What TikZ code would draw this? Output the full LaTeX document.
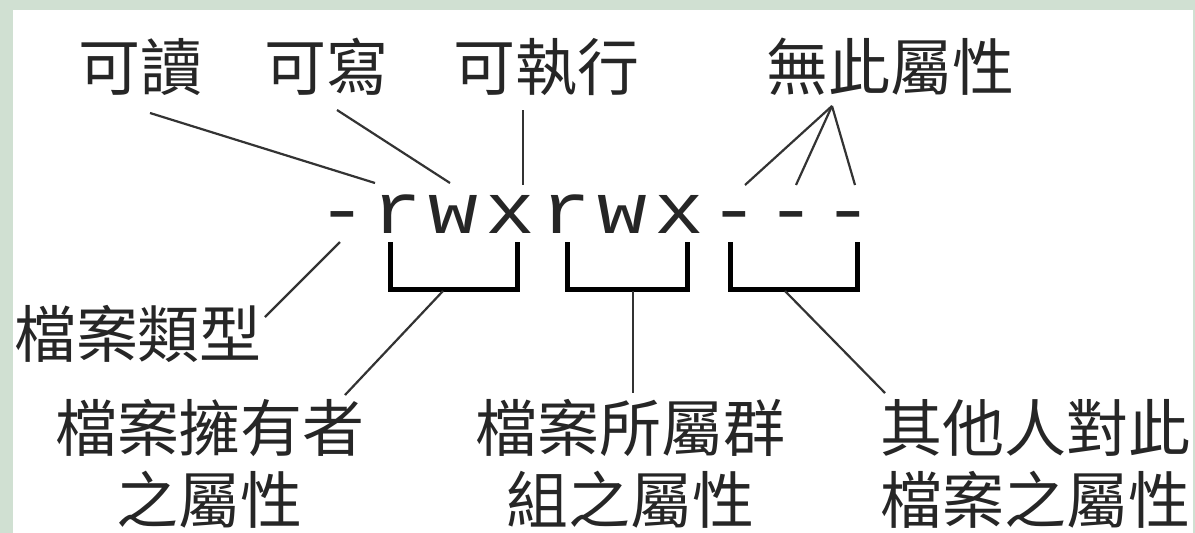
\documentclass[tikz,border=0pt]{standalone}
\usepackage{fontspec}
\newfontfamily\cjk{Noto Sans CJK TC}
\newfontfamily\mono[FakeStretch=1.15]{Liberation Mono}
\definecolor{bordergreen}{HTML}{D0E0D2}
\begin{document}
\begin{tikzpicture}[x=1pt,y=-1pt,
  lbl/.style={font=\cjk\fontsize{62}{72}\selectfont, inner sep=0pt, align=center, text=black!85},
  ch/.style={font=\mono\fontsize{72}{72}\selectfont, inner sep=0pt, anchor=base, text=black!85},
  conn/.style={line width=2.2pt, draw=black!80},
  brk/.style={line width=5pt, draw=black, line join=miter}]
\useasboundingbox (0,0) rectangle (1195,533);
\fill[bordergreen] (0,0) rectangle (1195,533);
\fill[white] (13,10) rectangle (1193,533);

% top labels
\node[lbl] (read)  at (140,67) {可讀};
\node[lbl] (write) at (326,67) {可寫};
\node[lbl] (exec)  at (546,67) {可執行};
\node[lbl] (none)  at (890,67) {無此屬性};

% permission string
\node[ch] (c1)  at (342,233) {-};
\node[ch] (c2)  at (397,233) {r};
\node[ch] (c3)  at (453,233) {w};
\node[ch] (c4)  at (510,233) {x};
\node[ch] (c5)  at (566,233) {r};
\node[ch] (c6)  at (622,233) {w};
\node[ch] (c7)  at (679,233) {x};
\node[ch] (c8)  at (734,233) {-};
\node[ch] (c9)  at (791,233) {-};
\node[ch] (c10) at (848,233) {-};

% bottom labels
\node[lbl] (type)  at (138,334) {檔案類型};
\node[lbl] (owner) at (210,464) {檔案擁有者\\之屬性};
\node[lbl] (group) at (630,464) {檔案所屬群\\組之屬性};
\node[lbl] (other) at (1035,464) {其他人對此\\檔案之屬性};

% connector end points
\coordinate (readS)  at (150,113);
\coordinate (readE)  at (375,183);
\coordinate (writeS) at (337,110);
\coordinate (writeE) at (450,183);
\coordinate (execS)  at (523,110);
\coordinate (execE)  at (523,185);
\coordinate (noneA)  at (832,106);
\coordinate (n1) at (745,185);
\coordinate (n2) at (796,185);
\coordinate (n3) at (855,185);
\coordinate (typeS) at (340,242);
\coordinate (typeE) at (265,317);
\coordinate (ownerS) at (443,291);
\coordinate (ownerE) at (345,395);
\coordinate (groupS) at (633,291);
\coordinate (groupE) at (633,393);
\coordinate (otherS) at (785,291);
\coordinate (otherE) at (885,393);

% brackets
\draw[brk] (390,242) -- (390,289) -- (517,289) -- (517,242);
\draw[brk] (567,242) -- (567,289) -- (687,289) -- (687,242);
\draw[brk] (730,242) -- (730,289) -- (857,289) -- (857,242);

% connectors
\draw[conn] (readS) -- (readE);
\draw[conn] (writeS) -- (writeE);
\draw[conn] (execS) -- (execE);
\draw[conn] (noneA) -- (n1);
\draw[conn] (noneA) -- (n2);
\draw[conn] (noneA) -- (n3);
\draw[conn] (typeS) -- (typeE);
\draw[conn] (ownerS) -- (ownerE);
\draw[conn] (groupS) -- (groupE);
\draw[conn] (otherS) -- (otherE);
\end{tikzpicture}
\end{document}
